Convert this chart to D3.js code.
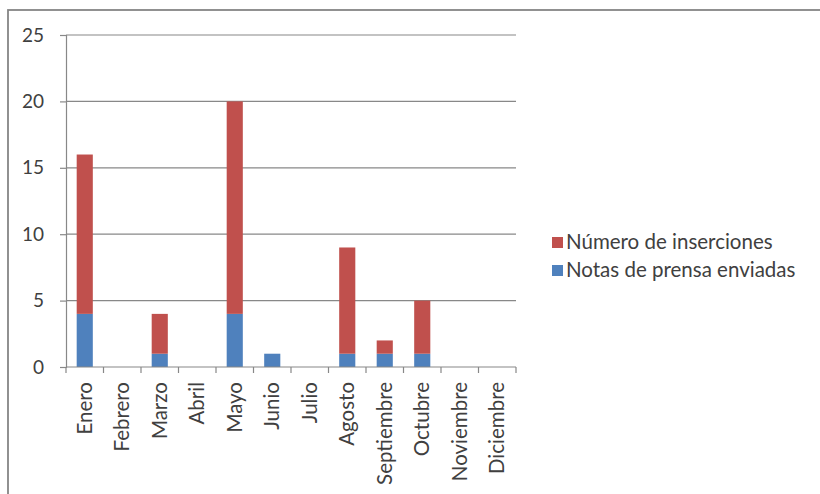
<!DOCTYPE html>
<html>
<head>
<meta charset="utf-8">
<script src="https://cdn.jsdelivr.net/npm/d3@7"></script>
<style>
  html, body { margin: 0; padding: 0; background: #fff; }
  svg { display: block; }
  text { font-family: Lato, "Open Sans", sans-serif; fill: #404040; }
</style>
</head>
<body>
<svg id="chart" width="820" height="494"></svg>
<script>
// Monthly press activity
const meses = ["Enero", "Febrero", "Marzo", "Abril", "Mayo", "Junio", "Julio",
               "Agosto", "Septiembre", "Octubre", "Noviembre", "Diciembre"];
const notasEnviadas = [4, 0, 1, 0, 4, 1, 0, 1, 1, 1, 0, 0];
const inserciones   = [12, 0, 3, 0, 16, 0, 0, 8, 1, 4, 0, 0];
const yTicks = [0, 5, 10, 15, 20, 25];
const seriesNames = ["Notas de prensa enviadas", "Número de inserciones"];
const seriesColors = ["#4F81BD", "#C0504D"];

const svg = d3.select("#chart");

// chart frame
svg.append("rect")
  .attr("x", 8).attr("y", 10)
  .attr("width", 830).attr("height", 500)
  .attr("fill", "none").attr("stroke", "#858585").attr("stroke-width", 1.8);

const plot = { left: 66, right: 516, top: 35, bottom: 367 };

const x = d3.scaleBand().domain(meses)
  .range([plot.left, plot.right]).paddingInner(0.57).paddingOuter(0.285);
const xBounds = d3.scaleBand().domain(meses).range([plot.left, plot.right]);
const y = d3.scaleLinear().domain([0, 25]).range([plot.bottom, plot.top]);

// gridlines
svg.append("g").selectAll("line").data(yTicks.filter(d => d > 0)).join("line")
  .attr("x1", plot.left).attr("x2", plot.right)
  .attr("y1", d => y(d)).attr("y2", d => y(d))
  .attr("stroke", "#888").attr("stroke-width", 1.2);

// stacked bars
const rows = meses.map((m, i) => ({ mes: m, notas: notasEnviadas[i], ins: inserciones[i] }));
const stack = d3.stack().keys(["notas", "ins"])(rows);
svg.append("g").selectAll("g").data(stack).join("g")
  .attr("fill", (d, i) => seriesColors[i])
  .selectAll("rect").data(d => d.filter(s => s[1] > s[0])).join("rect")
  .attr("x", d => x(d.data.mes))
  .attr("width", x.bandwidth())
  .attr("y", d => y(d[1]))
  .attr("height", d => y(d[0]) - y(d[1]));

// y axis
const yAxis = svg.append("g").attr("transform", `translate(${plot.left},0)`)
  .call(d3.axisLeft(y).tickValues(yTicks).tickSize(6).tickPadding(16));
yAxis.select(".domain").attr("stroke", "#888").attr("stroke-width", 1.2);
yAxis.selectAll(".tick line").attr("stroke", "#888").attr("stroke-width", 1.2);
yAxis.selectAll(".tick text").attr("font-size", 19).attr("fill", "#404040")
  .attr("font-family", "Lato, sans-serif");

// x axis: ticks at category boundaries
const xg = svg.append("g");
xg.append("line").attr("x1", plot.left).attr("x2", plot.right)
  .attr("y1", plot.bottom).attr("y2", plot.bottom)
  .attr("stroke", "#888").attr("stroke-width", 1.2);
const bounds = meses.map(m => xBounds(m)).concat([plot.right]);
xg.selectAll("line.t").data(bounds).join("line").attr("class", "t")
  .attr("x1", d => d).attr("x2", d => d)
  .attr("y1", plot.bottom).attr("y2", plot.bottom + 6)
  .attr("stroke", "#888").attr("stroke-width", 1.2);
xg.selectAll("text").data(meses).join("text")
  .attr("transform", d => `translate(${xBounds(d) + xBounds.bandwidth() / 2},${plot.bottom + 15}) rotate(-90)`)
  .attr("text-anchor", "end").attr("dy", "0.35em")
  .attr("font-size", 20.5)
  .text(d => d);

// legend
const legendItems = [
  { name: seriesNames[1], color: seriesColors[1] },
  { name: seriesNames[0], color: seriesColors[0] }
];
const lg = svg.append("g").attr("transform", "translate(552,242)");
const li = lg.selectAll("g").data(legendItems).join("g")
  .attr("transform", (d, i) => `translate(0,${i * 28})`);
li.append("rect").attr("x", 0).attr("y", -5).attr("width", 11).attr("height", 11)
  .attr("fill", d => d.color);
li.append("text").attr("x", 14).attr("dy", "0.35em").attr("font-size", 20.5)
  .text(d => d.name);
</script>
</body>
</html>
